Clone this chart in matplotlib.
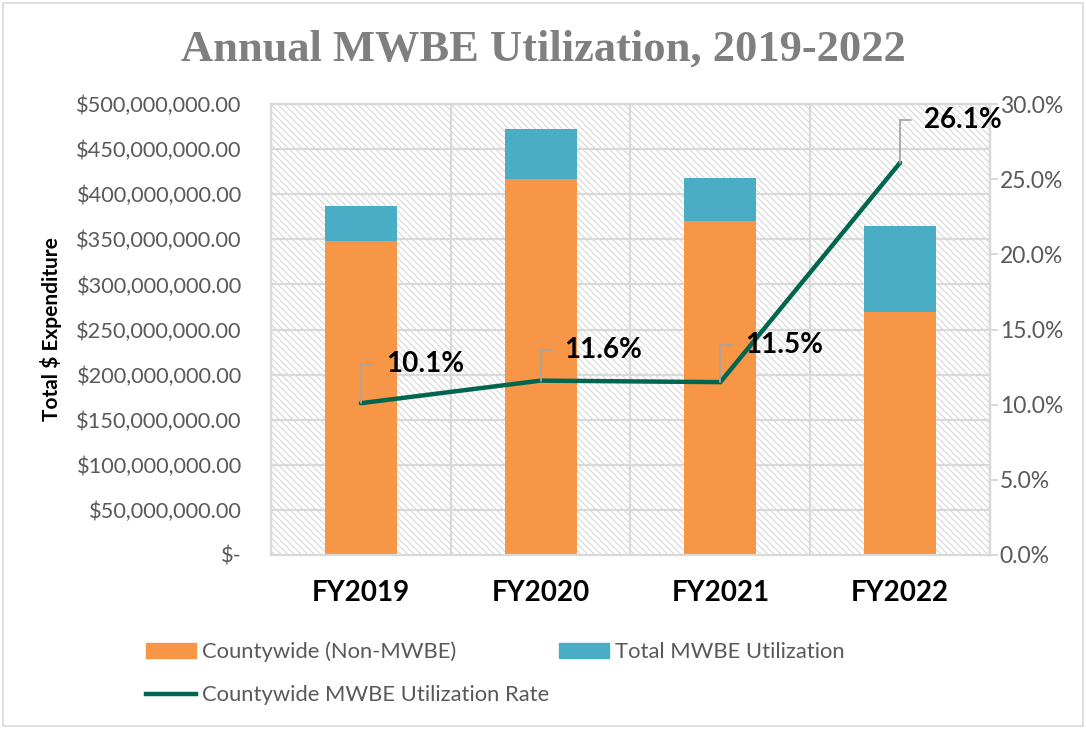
import matplotlib
matplotlib.use("Agg")
import matplotlib.pyplot as plt
from matplotlib.patches import Rectangle
from matplotlib.lines import Line2D
from matplotlib.ticker import FuncFormatter, MultipleLocator
import numpy as np

categories = ["FY2019", "FY2020", "FY2021", "FY2022"]
non_mwbe = [348e6, 417e6, 370e6, 269e6]
mwbe = [38.5e6, 55e6, 48e6, 96e6]
rate = [0.101, 0.116, 0.115, 0.261]
rate_labels = ["10.1%", "11.6%", "11.5%", "26.1%"]

ORANGE = "#F79646"
BLUE = "#4BACC6"
TEAL = "#00664F"
GRID = "#d9d9d9"
TXT = "#595959"

plt.rcParams['font.family'] = ['Lato', 'DejaVu Sans']
plt.rcParams['hatch.linewidth'] = 0.8

fig = plt.figure(figsize=(10.86, 7.29), dpi=100)
fig.patches.append(Rectangle((0.003, 0.004), 0.994, 0.992, transform=fig.transFigure,
                             fill=False, edgecolor=GRID, linewidth=1.2))
ax = fig.add_axes([0.2495, 0.2387, 0.6621, 0.6186])
ax.set_facecolor("white")
x = np.arange(len(categories))
ax.set_xlim(-0.5, 3.5)
ax.set_ylim(0, 500e6)

# hatched background
ax.add_patch(Rectangle((0, 0), 1, 1, transform=ax.transAxes, facecolor="white",
                       edgecolor="#d8d8d8", hatch="\\\\\\\\\\", linewidth=0, zorder=0))
for yv in np.arange(50e6, 500e6 + 1, 50e6):
    ax.axhline(yv, color=GRID, lw=1.6, zorder=1)
for xv in [-0.5, 0.5, 1.5, 2.5, 3.5]:
    ax.axvline(xv, color=GRID, lw=1.6, zorder=1)

ax.bar(x, non_mwbe, width=0.4, color=ORANGE, zorder=2, label="Countywide (Non-MWBE)")
ax.bar(x, mwbe, width=0.4, bottom=non_mwbe, color=BLUE, zorder=2, label="Total MWBE Utilization")

def money(v, pos):
    if v == 0:
        return "$-"
    return "${:,.2f}".format(v)
ax.yaxis.set_major_locator(MultipleLocator(50e6))
ax.yaxis.set_major_formatter(FuncFormatter(money))
ax.tick_params(axis='y', length=0, labelsize=15.7, labelcolor=TXT, pad=21)
ax.set_xticks(x)
ax.set_xticklabels(categories, fontsize=20, fontweight='bold', color='black')
ax.tick_params(axis='x', length=0, pad=18)
for s in ax.spines.values():
    s.set_color(GRID)
    s.set_linewidth(1.6)
ax.set_ylabel("Total $ Expenditure", fontsize=15, fontweight='bold', color='black', labelpad=10)

ax2 = ax.twinx()
ax2.set_ylim(0, 0.30)
ax2.plot(x, rate, color=TEAL, lw=3.2, zorder=5, solid_capstyle='round')
ax2.yaxis.set_major_locator(MultipleLocator(0.05))
ax2.yaxis.set_major_formatter(FuncFormatter(lambda v, p: "{:.1f}%".format(v * 100)))
ax2.tick_params(axis='y', length=6, width=1.4, color=GRID, labelsize=16.5, labelcolor=TXT, pad=1)
for s in ax2.spines.values():
    s.set_visible(False)
ax2.spines['right'].set_visible(True)
ax2.spines['right'].set_color(GRID)
ax2.spines['right'].set_linewidth(1.6)

offsets = [(18, 28), (17, 22), (18, 27), (17, 31)]
for xi, r, lab, off in zip(x, rate, rate_labels, offsets):
    ax2.annotate(lab, xy=(xi, r), xytext=off, textcoords='offset points',
                 fontsize=20, fontweight='bold', color='black', ha='left', va='center',
                 arrowprops=dict(arrowstyle='-', color='#a6a6a6', lw=1.3,
                                 connectionstyle='angle,angleA=0,angleB=90,rad=0',
                                 shrinkA=7, shrinkB=0),
                 zorder=6)

fig.text(0.5, 0.932, "Annual MWBE Utilization, 2019-2022", ha='center', va='center',
         fontsize=32, fontweight='bold', color='#7f7f7f', family=['Liberation Serif', 'DejaVu Serif'])

handles = [Rectangle((0, 0), 1, 1, color=ORANGE), Line2D([0], [0], color=TEAL, lw=3.2),
           Rectangle((0, 0), 1, 1, color=BLUE)]
labels = ["Countywide (Non-MWBE)", "Countywide MWBE Utilization Rate", "Total MWBE Utilization"]
leg = fig.legend(handles, labels, ncol=2, loc='upper left',
                 frameon=False, fontsize=15.8, labelcolor=TXT, handlelength=2.3, handleheight=0.7,
                 columnspacing=0.45, handletextpad=0.25, labelspacing=1.05, borderpad=0)
leg.set_bbox_to_anchor((0.124, 0.135), transform=fig.transFigure)

fig.savefig("out.png", dpi=100)
